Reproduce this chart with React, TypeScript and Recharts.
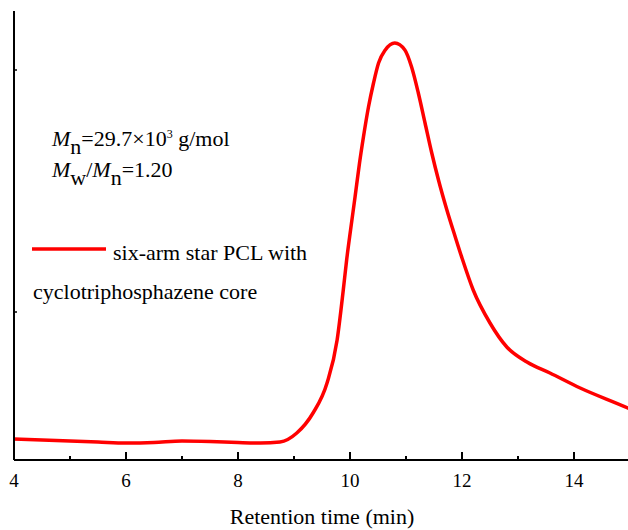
import { LineChart, Line, XAxis, YAxis, Label, Customized } from 'recharts';

// retention time (min)
const times = [
  4.0, 4.5, 5.0, 5.5, 6.0, 6.5, 7.0, 7.5, 8.0, 8.4, 8.75, 9.05, 9.34, 9.59, 9.77, 9.88, 9.94,
  10.01, 10.09, 10.17, 10.24, 10.33, 10.42, 10.51, 10.63, 10.8, 10.98, 11.1, 11.22, 11.34,
  11.46, 11.58, 11.73, 11.88, 12.0, 12.2, 12.5, 12.8, 13.16, 13.57, 14.11, 14.96, 15.0,
];
// detector signal (arbitrary units)
const signal = [
  21, 20, 19, 18, 17, 17.5, 19, 18.5, 17.5, 17, 18, 27, 47, 77, 120, 170, 200,
  230, 263, 297, 323, 353, 377, 397, 410, 417, 410, 393, 367, 337,
  307, 280, 250, 223, 202, 170, 137, 113, 98, 87, 72, 52, 51,
];
const xTicks = [4, 5, 6, 7, 8, 9, 10, 11, 12, 13, 14, 15];
const yTicks = [148, 390];

const seriesName = 'six-arm star PCL with cyclotriphosphazene core';

const data = times.map((t, i) => ({ time: t, value: signal[i] }));

const FONT = '"Liberation Serif", "Times New Roman", serif';
const RED = '#ff0000';

const XTick = ({ x, y, payload }: any) => {
  const major = payload.value % 2 === 0;
  return (
    <g>
      <line x1={x} x2={x} y1={y} y2={y - (major ? 8 : 4)} stroke="#000" strokeWidth={2} />
      {major && (
        <text x={x} y={y + 27} textAnchor="middle" fontFamily={FONT} fontSize={19} fill="#000">
          {payload.value}
        </text>
      )}
    </g>
  );
};

const YTick = ({ x, y }: any) => (
  <line x1={x} x2={x + 3} y1={y} y2={y} stroke="#000" strokeWidth={1.5} />
);

// annotation + legend drawn inside the plot
const Notes = () => (
  <g fontFamily={FONT} fill="#000">
    <text x={52} y={146} fontSize={22}>
      <tspan fontStyle="italic">M</tspan>
      <tspan dy={8}>n</tspan>
      <tspan dy={-8}>=29.7×10</tspan>
      <tspan dy={-8} fontSize={12}>3</tspan>
      <tspan dy={8}> g/mol</tspan>
    </text>
    <text x={52} y={177} fontSize={22}>
      <tspan fontStyle="italic">M</tspan>
      <tspan dy={8}>w</tspan>
      <tspan dy={-8}>/</tspan>
      <tspan fontStyle="italic">M</tspan>
      <tspan dy={8}>n</tspan>
      <tspan dy={-8}>=1.20</tspan>
    </text>
    <line x1={32} x2={106} y1={249} y2={249} stroke={RED} strokeWidth={3.5} />
    <text x={113} y={260} fontSize={22}>six-arm star PCL with</text>
    <text x={33} y={299} fontSize={22}>cyclotriphosphazene core</text>
  </g>
);

export default function App() {
  return (
    <div style={{ position: 'absolute', left: 0, top: 0, width: 628, height: 530, overflow: 'hidden', background: '#fff' }}>
      <LineChart width={632} height={530} data={data} margin={{ top: 11, right: 2, bottom: 0, left: 0 }}>
        <XAxis
          dataKey="time"
          type="number"
          domain={[4, 15]}
          ticks={xTicks}
          interval={0}
          tick={<XTick />}
          tickLine={false}
          tickSize={0}
          tickMargin={0}
          height={70}
          axisLine={{ stroke: '#000', strokeWidth: 2 }}
        >
          <Label
            value="Retention time (min)"
            position="insideBottom"
            offset={6}
            style={{ fontFamily: FONT, fontSize: 22, fill: '#000' }}
          />
        </XAxis>
        <XAxis
          xAxisId="top"
          orientation="top"
          type="number"
          domain={[4, 15]}
          height={0}
          tick={false}
          tickLine={false}
          axisLine={{ stroke: '#000', strokeWidth: 2 }}
        />
        <YAxis
          type="number"
          domain={[0, 449]}
          ticks={yTicks}
          width={14}
          tick={<YTick />}
          tickLine={false}
          tickSize={0}
          tickMargin={0}
          axisLine={{ stroke: '#000', strokeWidth: 2 }}
        />
        <Line
          type="monotone"
          dataKey="value"
          name={seriesName}
          stroke={RED}
          strokeWidth={3.5}
          dot={false}
          isAnimationActive={false}
        />
        <Customized component={<Notes />} />
      </LineChart>
    </div>
  );
}
